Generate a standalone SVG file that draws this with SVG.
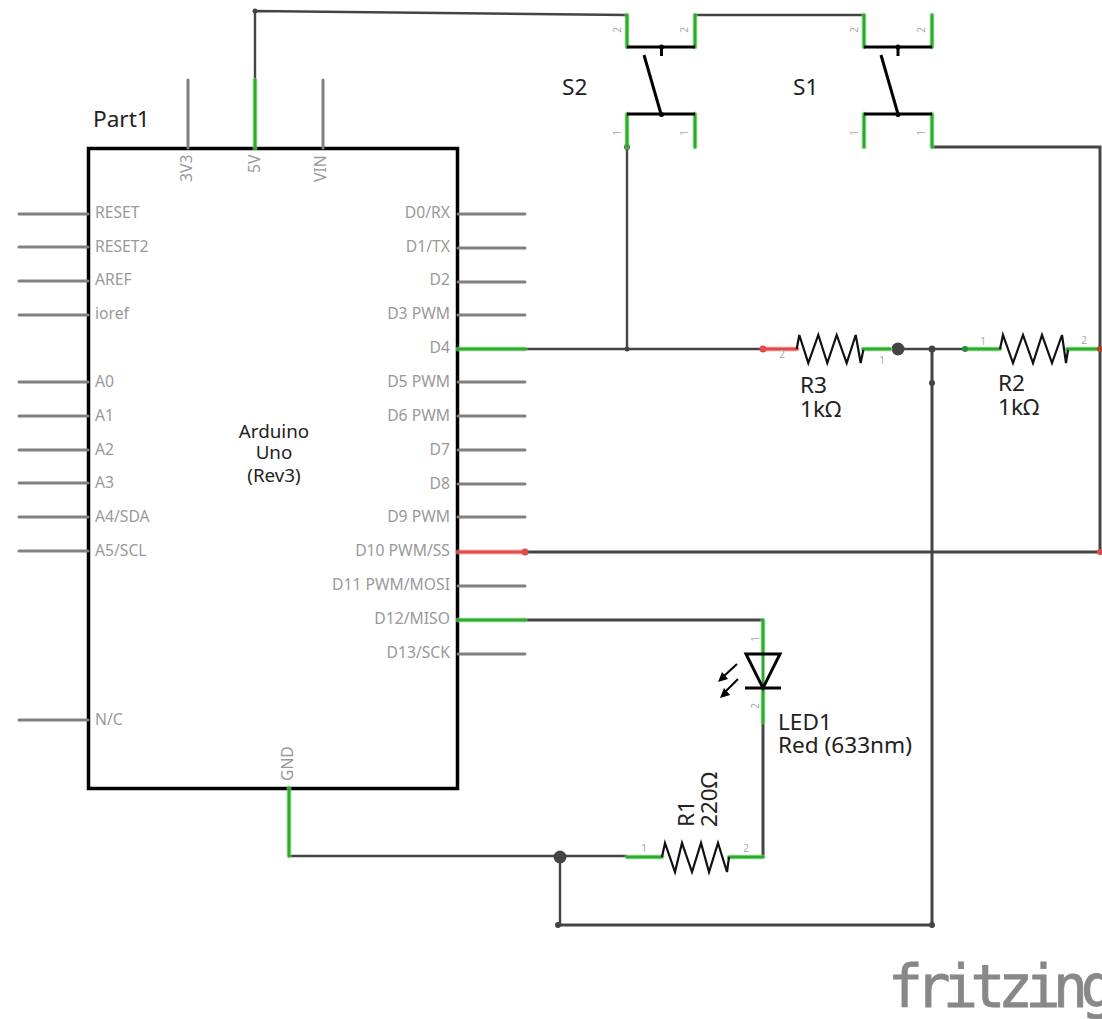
<svg xmlns="http://www.w3.org/2000/svg" width="1102" height="1019" viewBox="0 0 1102 1019">
<style>
text{font-family:"Noto Sans","Open Sans","Liberation Sans",sans-serif}
.l{font-size:22.600px;fill:#222}
.a{font-size:18.800px;fill:#222;text-anchor:middle}
.p{font-size:15.700px;fill:#999}
.pe{text-anchor:end}
.n{font-size:10px;fill:#aaa;text-anchor:middle}
.w{fill:none;stroke:#444;stroke-width:3}
.t{fill:none;stroke:#444;stroke-width:2.400}
.pin{stroke:#808080;stroke-width:3;stroke-linecap:round;fill:none}
.g{stroke:#2fa82f;stroke-width:3;fill:none;stroke-linecap:round}
.gg{stroke:#7fe07f;stroke-width:5;fill:none;opacity:.6;stroke-linecap:round}
.r{stroke:#e04a4a;stroke-width:3;fill:none;stroke-linecap:round}
.rg{stroke:#f09090;stroke-width:5;fill:none;opacity:.6;stroke-linecap:round}
.b{stroke:#000;stroke-width:3;fill:none;stroke-linejoin:miter}
.z{stroke:#111;stroke-width:2.200;fill:none}
.d{fill:#444}
</style>
<g id="connectors">
<path class="t" d="M255 80V11L627 15"/>
<path class="t" d="M695 15H864"/>
<path class="w" d="M932 147H1100V552"/>
<path class="w" d="M525 552H1100"/>
<path class="t" d="M525 349H763"/>
<path class="t" d="M627 147V349"/>
<path class="t" d="M898 349H965"/>
<path class="w" d="M932 349V925"/>
<path class="w" d="M525 620H763"/>
<path class="w" d="M763 722V857"/>
<path class="t" d="M289 856H627"/>
<path class="t" d="M560 857V925"/>
<path class="w" d="M558 925H932"/>
<circle class="d" cx="255" cy="11" r="2.500"/>
<circle class="d" cx="627" cy="147" r="3"/>
<circle class="d" cx="627" cy="349" r="2.500"/>
<circle class="d" cx="898" cy="349" r="6.500"/>
<circle class="d" cx="932" cy="349" r="3.500"/>
<circle class="d" cx="932" cy="383" r="3"/>
<circle class="d" cx="560" cy="857" r="6.500"/>
<circle class="d" cx="558" cy="925" r="3"/>
<circle class="d" cx="932" cy="925" r="3"/>
</g>
<g id="Part1">
<rect x="88.500" y="148.500" width="369" height="640" fill="none" stroke="#000" stroke-width="3.500"/>
<text class="l" x="93" y="127">Part1</text>
<text class="a" x="274" y="438">Arduino</text>
<text class="a" x="274" y="459">Uno</text>
<text class="a" x="274" y="482">(Rev3)</text>
<path class="pin" d="M188 80V148M323 80V148M19 214H88M19 247H88M19 281H88M19 315H88M19 382H88M19 416H88M19 450H88M19 483H88M19 517H88M19 551H88M19 720H88M458 214H525M458 248H525M458 282H525M458 315H525M458 382H525M458 416H525M458 450H525M458 484H525M458 517H525M458 586H525M458 654H525"/>
<path class="gg" d="M255 80V148M458 349H525M458 620H525M289 788V856"/>
<path class="g" d="M255 80V148M458 349H525M458 620H525M289 788V856"/>
<path class="rg" d="M458 552H525"/>
<path class="r" d="M458 552H525"/>
<g class="p">
<text x="95" y="218">RESET</text><text x="95" y="252">RESET2</text><text x="95" y="285">AREF</text><text x="95" y="319">ioref</text>
<text x="95" y="387">A0</text><text x="95" y="421">A1</text><text x="95" y="455">A2</text><text x="95" y="488">A3</text><text x="95" y="522">A4/SDA</text><text x="95" y="556">A5/SCL</text><text x="95" y="725">N/C</text>
</g>
<g class="p pe">
<text x="450" y="218">D0/RX</text><text x="450" y="252">D1/TX</text><text x="450" y="285">D2</text><text x="450" y="319">D3 PWM</text><text x="450" y="353">D4</text><text x="450" y="387">D5 PWM</text><text x="450" y="421">D6 PWM</text><text x="450" y="455">D7</text><text x="450" y="489">D8</text><text x="450" y="522">D9 PWM</text><text x="450" y="556">D10 PWM/SS</text><text x="450" y="590">D11 PWM/MOSI</text><text x="450" y="624">D12/MISO</text><text x="450" y="658">D13/SCK</text>
</g>
<text class="p" transform="translate(192 182) rotate(-90)">3V3</text>
<text class="p" transform="translate(259.500 173) rotate(-90)">5V</text>
<text class="p" transform="translate(326 182) rotate(-90)">VIN</text>
<text class="p" transform="translate(293 781) rotate(-90)">GND</text>
</g>
<g id="S2">
<path class="gg" d="M627 15V47M695 15V47M627 114V147M695 114V147"/>
<path class="g" d="M627 15V47M695 15V47M627 114V147M695 114V147"/>
<path class="b" d="M627 47H695M661.500 47V56M644 55L661 114M627 114H695"/>
<circle cx="661.500" cy="47" r="2.500"/><circle cx="661.500" cy="114.500" r="2.500"/>
<text class="l" x="562" y="95">S2</text>
<text class="n" transform="translate(621 30) rotate(-90)">2</text><text class="n" transform="translate(688 30) rotate(-90)">2</text>
<text class="n" transform="translate(621 133) rotate(-90)">1</text><text class="n" transform="translate(688 133) rotate(-90)">1</text>
</g>
<g id="S1">
<path class="gg" d="M864 15V47M932 15V47M864 114V147M932 114V147"/>
<path class="g" d="M864 15V47M932 15V47M864 114V147M932 114V147"/>
<path class="b" d="M864 47H932M898 47V56M881 55L898 114M864 114H932"/>
<circle cx="898" cy="47" r="2.500"/><circle cx="898" cy="114.500" r="2.500"/>
<text class="l" x="793" y="95">S1</text>
<text class="n" transform="translate(858 30) rotate(-90)">2</text><text class="n" transform="translate(925 30) rotate(-90)">2</text>
<text class="n" transform="translate(858 133) rotate(-90)">1</text><text class="n" transform="translate(925 133) rotate(-90)">1</text>
</g>
<g id="R3">
<path class="rg" d="M763 349H797"/><path class="r" d="M763 349H797"/>
<path class="gg" d="M863 349H890"/><path class="g" d="M863 349H890"/>
<path class="z" d="M796.700 349L799.300 335L808.300 363L818.300 335L827.300 363L836.700 335L846.700 363L855.700 335L860.700 363L863.300 350"/>
<circle cx="763" cy="349" r="3.500" fill="#e04a4a"/>
<text class="n" x="782" y="358">2</text><text class="n" x="882" y="364">1</text>
<text class="l" x="800" y="393">R3</text><text class="l" x="800" y="417">1kΩ</text>
</g>
<g id="R2">
<path class="gg" d="M965 349H1000M1067 349H1099"/><path class="g" d="M965 349H1000M1067 349H1099"/>
<path class="z" d="M1000 349L1003 335L1013 363L1023 335L1033 363L1042 335L1052 363L1062 335L1066 363L1068 350"/>
<circle cx="965" cy="349" r="3" fill="#2a8a3a"/>
<circle cx="1100" cy="349" r="3" fill="#b04030"/>
<circle cx="1100" cy="552" r="3" fill="#e04a4a"/>
<circle cx="525" cy="552" r="3.500" fill="#e04a4a"/>
<text class="n" x="983" y="345">1</text><text class="n" x="1084" y="344">2</text>
<text class="l" x="998" y="391">R2</text><text class="l" x="998" y="415">1kΩ</text>
</g>
<g id="R1">
<path class="gg" d="M627 857H662M729 857H763"/><path class="g" d="M627 857H662M729 857H763"/>
<path class="z" d="M662 857L665 843L675 872L682 843L692 872L701 843L709 872L718 843L727 872L729 857"/>
<text class="n" x="644" y="852">1</text><text class="n" x="746" y="852">2</text>
<text class="l" transform="translate(694 827) rotate(-90)">R1</text>
<text class="l" transform="translate(717 827) rotate(-90)">220Ω</text>
</g>
<g id="LED1">
<path class="gg" d="M763 620V654M763 688V722"/><path class="g" d="M763 620V688M763 688V722"/>
<path class="b" d="M746 654H780L763 688ZM745 688H781"/>
<path d="M737 664L724 676M738 679L725 692" stroke="#000" stroke-width="2" fill="none"/>
<path d="M718 682L722 672L728 679ZM720 698L724 688L730 695Z" fill="#000"/>
<text class="n" transform="translate(759 639) rotate(-90)">1</text><text class="n" transform="translate(759 706) rotate(-90)">2</text>
<text class="l" x="778" y="730">LED1</text><text class="l" x="778" y="753">Red (633nm)</text>
</g>
<g id="logo">
<text x="888" y="1007" style="font-family:'DejaVu Sans Mono',monospace;font-size:58px;letter-spacing:-7.400px;fill:#888;stroke:#888;stroke-width:.8px">fritzing</text>
</g>
</svg>
